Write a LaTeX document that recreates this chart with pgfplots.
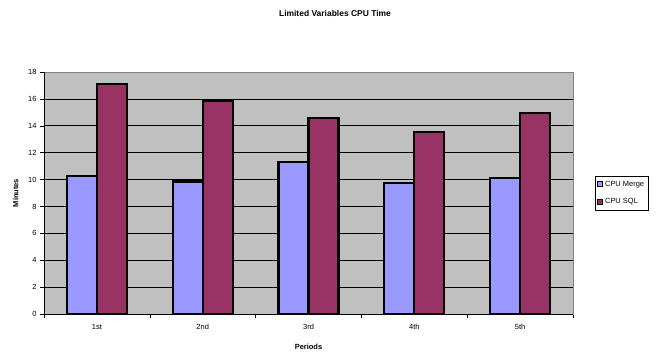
\documentclass[border=0pt]{standalone}
\usepackage{fontspec}
\setmainfont{Liberation Sans}
\usepackage{pgfplots}
\pgfplotsset{compat=1.18}
\definecolor{merge}{HTML}{9999FF}
\definecolor{sql}{HTML}{993366}
\definecolor{bg}{HTML}{C0C0C0}
\definecolor{frame}{HTML}{808080}
\begin{document}
\begin{tikzpicture}[x=1bp,y=1bp]
\path[use as bounding box] (0,0) rectangle (670,352);
\node[font=\fontsize{8.5}{10}\selectfont\bfseries] at (335,339) {Limited Variables CPU Time};
\begin{axis}[
  at={(44bp,38bp)}, anchor=south west,
  scale only axis, width=529bp, height=242bp,
  ybar=0pt, bar width=30bp,
  xmin=-0.5, xmax=4.5, ymin=0, ymax=18,
  ytick={0,2,...,18},
  xtick={0,...,4}, xticklabels={1st,2nd,3rd,4th,5th},
  minor xtick={-0.5,0.5,...,4.5},
  xtick pos=bottom, ytick pos=left,
  major x tick style={draw=none},
  minor x tick style={draw=black, thin},
  minor tick length=4bp, major tick length=4bp,
  tick align=outside,
  y tick style={draw=black, thin},
  ymajorgrids, major grid style={black, line width=0.6bp},
  axis background/.style={fill=bg},
  axis line style={draw=frame, line width=1bp},
  tick label style={font=\fontsize{7.5}{9}\selectfont},
  xticklabel style={yshift=-3bp},
  /pgf/number format/assume math mode=true,
  xlabel={Periods}, ylabel={Minutes},
  label style={font=\fontsize{7.5}{9}\selectfont\bfseries},
  xlabel style={yshift=-7bp},
  ylabel style={yshift=3bp},
  legend style={at={(axis description cs:1.0416,0.5)}, anchor=west,
    font=\fontsize{7.5}{9}\selectfont, draw=black, line width=0.6bp,
    inner xsep=2bp, inner ysep=3bp, row sep=7bp, cells={anchor=west}},
  legend image code/.code={\draw[#1,draw=black,line width=0.8bp] (0bp,-2.5bp) rectangle (5bp,2.5bp);},
  clip=false,
]
\addplot[fill=merge, draw=black, line width=2.2bp] coordinates {(0,10.29) (1,9.85) (2,11.33) (3,9.72) (4,10.1)};
\addplot[fill=sql, draw=black, line width=2.2bp] coordinates {(0,17.09) (1,15.85) (2,14.56) (3,13.56) (4,14.93)};
\legend{CPU Merge\hspace{15bp}, CPU SQL}
\draw[black, line width=1bp] (rel axis cs:0,1) -- (rel axis cs:0,0) -- (rel axis cs:1,0);
\end{axis}
\end{tikzpicture}
\end{document}
